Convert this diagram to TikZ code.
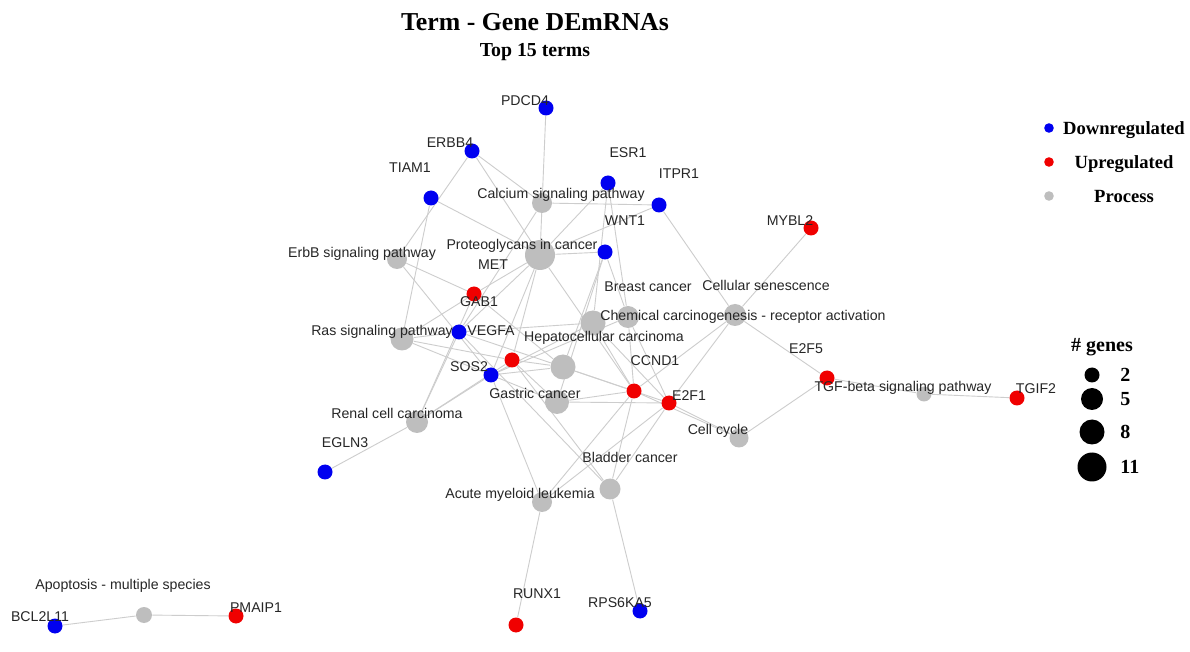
\documentclass[tikz,border=0pt]{standalone}
\usepackage{fontspec}
\setmainfont{Liberation Serif}
\setsansfont{Liberation Sans}
\usetikzlibrary{backgrounds}

\definecolor{downblue}{RGB}{0,0,240}
\definecolor{upred}{RGB}{240,0,0}
\definecolor{procgray}{RGB}{190,190,190}
\definecolor{edgegray}{RGB}{205,205,205}

\tikzset{
  dot/.style={circle, inner sep=0pt, minimum size=7.5pt},
  down/.style={dot, fill=downblue},
  up/.style={dot, fill=upred},
  proc/.style={circle, inner sep=0pt, fill=procgray, minimum size=#1},
  proc/.default=10pt,
  lab/.style={inner sep=0pt, font=\sffamily\fontsize{7.07}{8}\selectfont, text=black!85,
    text height=5.06pt, text depth=0pt},
  key/.style={inner sep=0pt, font=\bfseries\fontsize{9.3}{10}\selectfont, text height=6.2pt, text depth=0pt},
  link/.style={edgegray, line width=0.45pt},
}

\begin{document}
\begin{tikzpicture}[x=0.5pt, y=-0.5pt, line cap=round]
\useasboundingbox (0,0) rectangle (1190,652);

% title
\node[inner sep=0pt, font=\bfseries\fontsize{12.9}{14}\selectfont, text height=8.5pt, text depth=0pt] (title) at (535,22) {Term - Gene DEmRNAs};
\node[inner sep=0pt, font=\bfseries\fontsize{9.9}{11}\selectfont, text height=6.6pt, text depth=0pt] (subtitle) at (535,50) {Top 15 terms};

% process nodes
\foreach \n/\x/\y/\s in {calc/542/203/10pt, prot/540/255/15pt, erbb/397/259/10pt,
  ras/402/339/11.5pt, renal/417/422/11pt, breast/628/317/11pt, chem/593/323/12.5pt,
  senes/735/315/11pt, hcc/563/367/12.5pt, gastric/557/402/12pt, bladder/610/489/10.5pt,
  aml/542/502/10pt, cycle/739/438/9.5pt, tgfb/924/394/7.5pt, apop/144/615/8pt}
  \node[proc=\s] (\n) at (\x,\y) {};

% downregulated genes
\foreach \n/\x/\y in {pdcd4/546/108, erbb4/472/151, tiam1/431/198, esr1/608/183,
  itpr1/659/205, wnt1/605/252, vegfa/459/332, sos2/491/375, egln3/325/472,
  rps6ka5/640/611, bcl2l11/55/626}
  \node[down] (\n) at (\x,\y) {};

% upregulated genes
\foreach \n/\x/\y in {mybl2/811/228, gab1/474/294, met/512/360, ccnd1/634/391,
  e2f1/669/403, e2f5/827/378, tgif2/1017/398, runx1/516/625, pmaip1/236/616}
  \node[up] (\n) at (\x,\y) {};

\begin{pgfonlayer}{background}
\fill[white] (0,0) rectangle (1190,652);
\foreach \a/\b in {pdcd4/prot, erbb4/erbb, erbb4/calc, erbb4/prot, tiam1/prot, tiam1/ras,
  esr1/prot, esr1/breast, esr1/chem, itpr1/calc, itpr1/prot, itpr1/senes,
  wnt1/prot, wnt1/breast, wnt1/hcc, wnt1/gastric, mybl2/senes,
  e2f5/senes, e2f5/cycle, e2f5/tgfb, tgif2/tgfb, egln3/renal, runx1/aml,
  rps6ka5/bladder, bcl2l11/apop, pmaip1/apop,
  ccnd1/breast, ccnd1/chem, ccnd1/hcc, ccnd1/gastric, ccnd1/bladder, ccnd1/aml,
  ccnd1/cycle, ccnd1/senes, ccnd1/prot,
  e2f1/breast, e2f1/chem, e2f1/hcc, e2f1/gastric, e2f1/bladder, e2f1/aml,
  e2f1/cycle, e2f1/senes,
  vegfa/prot, vegfa/ras, vegfa/renal, vegfa/bladder, vegfa/hcc, vegfa/calc, vegfa/chem,
  sos2/erbb, sos2/ras, sos2/prot, sos2/renal, sos2/breast, sos2/gastric, sos2/hcc,
  sos2/aml, sos2/chem,
  gab1/erbb, gab1/ras, gab1/renal, gab1/hcc, gab1/prot,
  met/prot, met/renal, met/hcc, met/gastric, met/bladder, met/ras}
  \draw[link] (\a) -- (\b);
\end{pgfonlayer}

% gene labels
\foreach \t/\x/\y in {PDCD4/525/100, ERBB4/450/142, TIAM1/410/167, ESR1/628/152,
  ITPR1/679/173, WNT1/625/220, MYBL2/790/220, MET/493/264, GAB1/479/301,
  VEGFA/491/330, SOS2/469/366, CCND1/655/360, E2F1/689/395, E2F5/806/348,
  TGIF2/1036/388, EGLN3/345/442, RUNX1/537/593, RPS6KA5/620/602,
  BCL2L11/40/616, PMAIP1/256/607}
  \node[lab] (l-\t) at (\x,\y) {\t};

% process labels
\node[lab] (l-calc) at (561,193) {Calcium signaling pathway};
\node[lab] (l-prot) at (522,244) {Proteoglycans in cancer};
\node[lab] (l-erbb) at (362,252) {ErbB signaling pathway};
\node[lab] (l-ras) at (382,330) {Ras signaling pathway};
\node[lab] (l-renal) at (397,413) {Renal cell carcinoma};
\node[lab] (l-breast) at (648,286) {Breast cancer};
\node[lab] (l-chem) at (743,315) {Chemical carcinogenesis - receptor activation};
\node[lab] (l-senes) at (766,285) {Cellular senescence};
\node[lab] (l-hcc) at (604,336) {Hepatocellular carcinoma};
\node[lab] (l-gastric) at (535,393) {Gastric cancer};
\node[lab] (l-bladder) at (630,457) {Bladder cancer};
\node[lab] (l-aml) at (520,493) {Acute myeloid leukemia};
\node[lab] (l-cycle) at (718,429) {Cell cycle};
\node[lab] (l-tgfb) at (903,386) {TGF-beta signaling pathway};
\node[lab] (l-apop) at (123,584) {Apoptosis - multiple species};

% colour key
\node[dot, fill=downblue, minimum size=4.8pt] (k-down) at (1049,128) {};
\node[dot, fill=upred, minimum size=4.8pt] (k-up) at (1049,162) {};
\node[dot, fill=procgray, minimum size=4.8pt] (k-proc) at (1049,196) {};
\node[key] at (1124,128) {Downregulated};
\node[key] at (1124,162) {Upregulated};
\node[key] at (1124,196) {Process};

% size key
\node[key, font=\bfseries\fontsize{10}{11}\selectfont] (k-genes) at (1102,345) {\# genes};
\foreach \v/\y/\s in {2/375/7.5pt, 5/399/11pt, 8/432/12.5pt, 11/467/14.5pt}{
  \node[dot, fill=black, minimum size=\s] (k-\v) at (1092,\y) {};
  \node[key, font=\bfseries\fontsize{10}{11}\selectfont, anchor=west] at (1120,\y) {\v};
}
\end{tikzpicture}
\end{document}
